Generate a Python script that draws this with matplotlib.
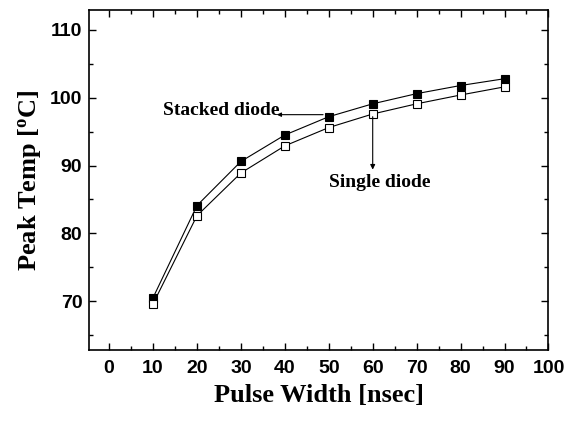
import matplotlib
matplotlib.use("Agg")
import matplotlib.pyplot as plt
from matplotlib.ticker import MultipleLocator

pulse_width = [10, 20, 30, 40, 50, 60, 70, 80, 90]
stacked = [70.5, 84.1, 90.6, 94.5, 97.2, 99.1, 100.6, 101.8, 102.8]
single = [69.6, 82.6, 88.9, 92.9, 95.6, 97.6, 99.1, 100.4, 101.6]
x_ticks = [0, 10, 20, 30, 40, 50, 60, 70, 80, 90, 100]
y_ticks = [70, 80, 90, 100, 110]

fig = plt.figure(figsize=(5.66, 4.24), dpi=100)
ax = fig.add_axes([0.1578, 0.1745, 0.8112, 0.803])

ax.plot(pulse_width, stacked, color='black', lw=0.8, marker='s', ms=5.5,
        mfc='black', mec='black', mew=0.8)
ax.plot(pulse_width, single, color='black', lw=0.8, marker='s', ms=5.5,
        mfc='white', mec='black', mew=0.8)

ax.set_xlim(-4.5, 100)
ax.set_ylim(62.8, 113)
ax.set_xticks(x_ticks)
ax.set_yticks(y_ticks)
ax.xaxis.set_minor_locator(MultipleLocator(5))
ax.yaxis.set_minor_locator(MultipleLocator(5))
ax.tick_params(which='both', direction='in', top=True, right=True, width=1.0)
ax.tick_params(which='major', length=5)
ax.tick_params(which='minor', length=3)
ax.tick_params(which='major', axis='both', labelsize=14)
ax.tick_params(which='major', axis='x', pad=7)
ax.tick_params(which='major', axis='y', pad=5)
for lbl in ax.get_xticklabels() + ax.get_yticklabels():
    lbl.set_fontweight('bold')
    lbl.set_fontfamily('Liberation Sans')
for sp in ax.spines.values():
    sp.set_linewidth(1.2)

ax.set_xlabel('Pulse Width [nsec]', fontsize=19, fontweight='bold',
              family='Liberation Serif', labelpad=5)
ax.set_ylabel('Peak Temp [$\\mathregular{^{o}}$C]', fontsize=19, fontweight='bold',
              family='Liberation Serif', labelpad=5)

ax.annotate('', xy=(38.2, 97.5), xytext=(48.7, 97.5),
            arrowprops=dict(arrowstyle='-|>', color='black', lw=0.8,
                            mutation_scale=6, shrinkA=0, shrinkB=0))
ax.text(25.5, 98.1, 'Stacked diode', ha='center', va='center', fontsize=14,
        fontweight='bold', family='Liberation Serif')
ax.annotate('', xy=(60, 89.4), xytext=(60, 97.2),
            arrowprops=dict(arrowstyle='-|>', color='black', lw=0.8,
                            mutation_scale=7, shrinkA=0, shrinkB=0))
ax.text(61.5, 87.5, 'Single diode', ha='center', va='center', fontsize=14,
        fontweight='bold', family='Liberation Serif')

fig.savefig('out.png', dpi=100)
